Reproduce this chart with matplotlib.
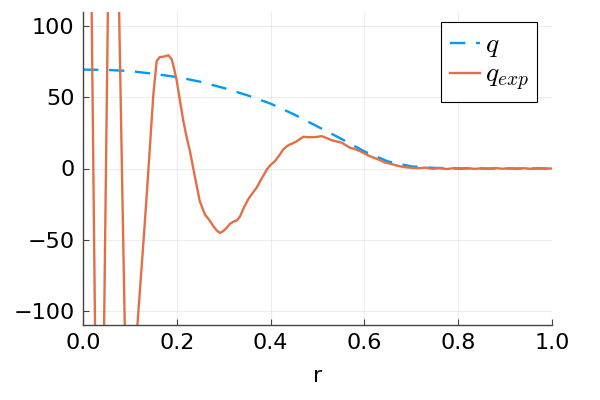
import matplotlib
matplotlib.use("Agg")
import matplotlib.pyplot as plt

# q (dashed, blue)
r_q = [0.0, 0.05, 0.1, 0.15, 0.2, 0.25, 0.3, 0.35, 0.4, 0.45, 0.5, 0.55, 0.6,
       0.65, 0.7, 0.75, 0.8, 0.85, 0.9, 0.95, 1.0]
q = [69.5, 69.3, 68.5, 66.6, 64.3, 61.0, 56.6, 51.5, 45.6, 38.0, 29.5, 21.0, 12.0,
     5.0, 1.5, 0.4, 0.1, 0.0, 0.0, 0.0, 0.0]

# q_exp (solid, orange)
r_exp = [0.0, 0.008, 0.0185, 0.0256, 0.035, 0.045, 0.053, 0.065, 0.077, 0.089,
         0.102, 0.116, 0.129, 0.136, 0.143, 0.150, 0.157, 0.164, 0.170, 0.176,
         0.182, 0.189, 0.194, 0.200, 0.207, 0.214, 0.221, 0.228, 0.239, 0.249,
         0.260, 0.270, 0.278, 0.285, 0.292, 0.299, 0.306, 0.313, 0.320, 0.328,
         0.335, 0.343, 0.352, 0.361, 0.370, 0.381, 0.392, 0.400, 0.409, 0.418,
         0.427, 0.434, 0.441, 0.448, 0.456, 0.463, 0.470, 0.479, 0.488, 0.498,
         0.509, 0.519, 0.530, 0.541, 0.552, 0.560, 0.569, 0.580, 0.591, 0.600,
         0.608, 0.619, 0.630, 0.644, 0.656, 0.669, 0.678, 0.687, 0.70, 0.715,
         0.73, 0.745, 0.76, 0.775, 0.79, 0.805, 0.82, 0.835, 0.85, 0.865, 0.88,
         0.895, 0.91, 0.925, 0.94, 0.955, 0.97, 0.985, 1.0]
q_exp = [420, 340, 110, -110, -300, -110, 110, 330, 110, -110,
         -230, -110, -51, -18, 17, 52, 75.5, 78.4, 78.5, 79.0,
         79.6, 76.8, 70.5, 61.5, 47.0, 33.3, 22.0, 12.2, -6.5, -23.0,
         -32.4, -36.5, -40.6, -43.5, -45.3, -44.0, -41.8, -39.0, -37.5, -36.5,
         -33.6, -27.5, -21.8, -17.5, -13.6, -7.0, -0.7, 2.5, 5.1, 9.0,
         13.4, 15.5, 16.9, 17.8, 19.2, 20.8, 22.3, 22.0, 22.0, 22.2,
         22.7, 21.5, 19.9, 19.0, 18.1, 16.5, 14.6, 13.6, 12.2, 10.6,
         9.2, 7.7, 6.3, 4.2, 3.3, 2.1, 1.4, 0.9, 0.5, 0.2,
         0.6, -0.2, 0.3, -0.4, 0.2, -0.3, 0.3, -0.3, 0.2, -0.3, 0.3,
         -0.2, 0.3, -0.3, 0.2, -0.2, 0.3, -0.1, 0.0]

xticks = [0.0, 0.2, 0.4, 0.6, 0.8, 1.0]
xtick_labels = ["0.0", "0.2", "0.4", "0.6", "0.8", "1.0"]
yticks = [-100, -50, 0, 50, 100]
ytick_labels = ["\u2212100", "\u221250", "0", "50", "100"]

plt.rcParams["font.family"] = "DejaVu Sans"
plt.rcParams["mathtext.fontset"] = "cm"

fig = plt.figure(figsize=(6, 4), dpi=100)
ax = fig.add_axes([83 / 600, 75 / 400, 469 / 600, 313 / 400])

blue = (0.0, 0.605, 0.978)
orange = (0.889, 0.436, 0.278)

ln, = ax.plot(r_q, q, color=blue, lw=1.7, label=r"$q$")
ln.set_dashes([6.5, 4.5])
ax.plot(r_exp, q_exp, color=orange, lw=1.7, label=r"$q_{exp}$")

ax.set_xlim(0, 1)
ax.set_ylim(-110, 110)
ax.set_xticks(xticks)
ax.set_xticklabels(xtick_labels)
ax.set_yticks(yticks)
ax.set_yticklabels(ytick_labels)
ax.set_xlabel("r", fontsize=16, labelpad=9)

ax.grid(True, color="black", alpha=0.07, lw=0.8)
for s in ["top", "right"]:
    ax.spines[s].set_visible(False)
for s in ["left", "bottom"]:
    ax.spines[s].set_color("#444444")
    ax.spines[s].set_linewidth(1.0)
ax.tick_params(direction="in", length=4, width=0.8, color="#444444",
               labelsize=16, pad=6)

leg = ax.legend(loc="upper right", bbox_to_anchor=(537 / 600, 1 - 22 / 400),
                bbox_transform=fig.transFigure, borderaxespad=0,
                fontsize=20, handlelength=1.1, handletextpad=0.15,
                fancybox=False, framealpha=1, edgecolor="black",
                labelspacing=0.05, borderpad=0.3)
leg.get_frame().set_linewidth(0.8)

fig.savefig("out.png", dpi=100)
